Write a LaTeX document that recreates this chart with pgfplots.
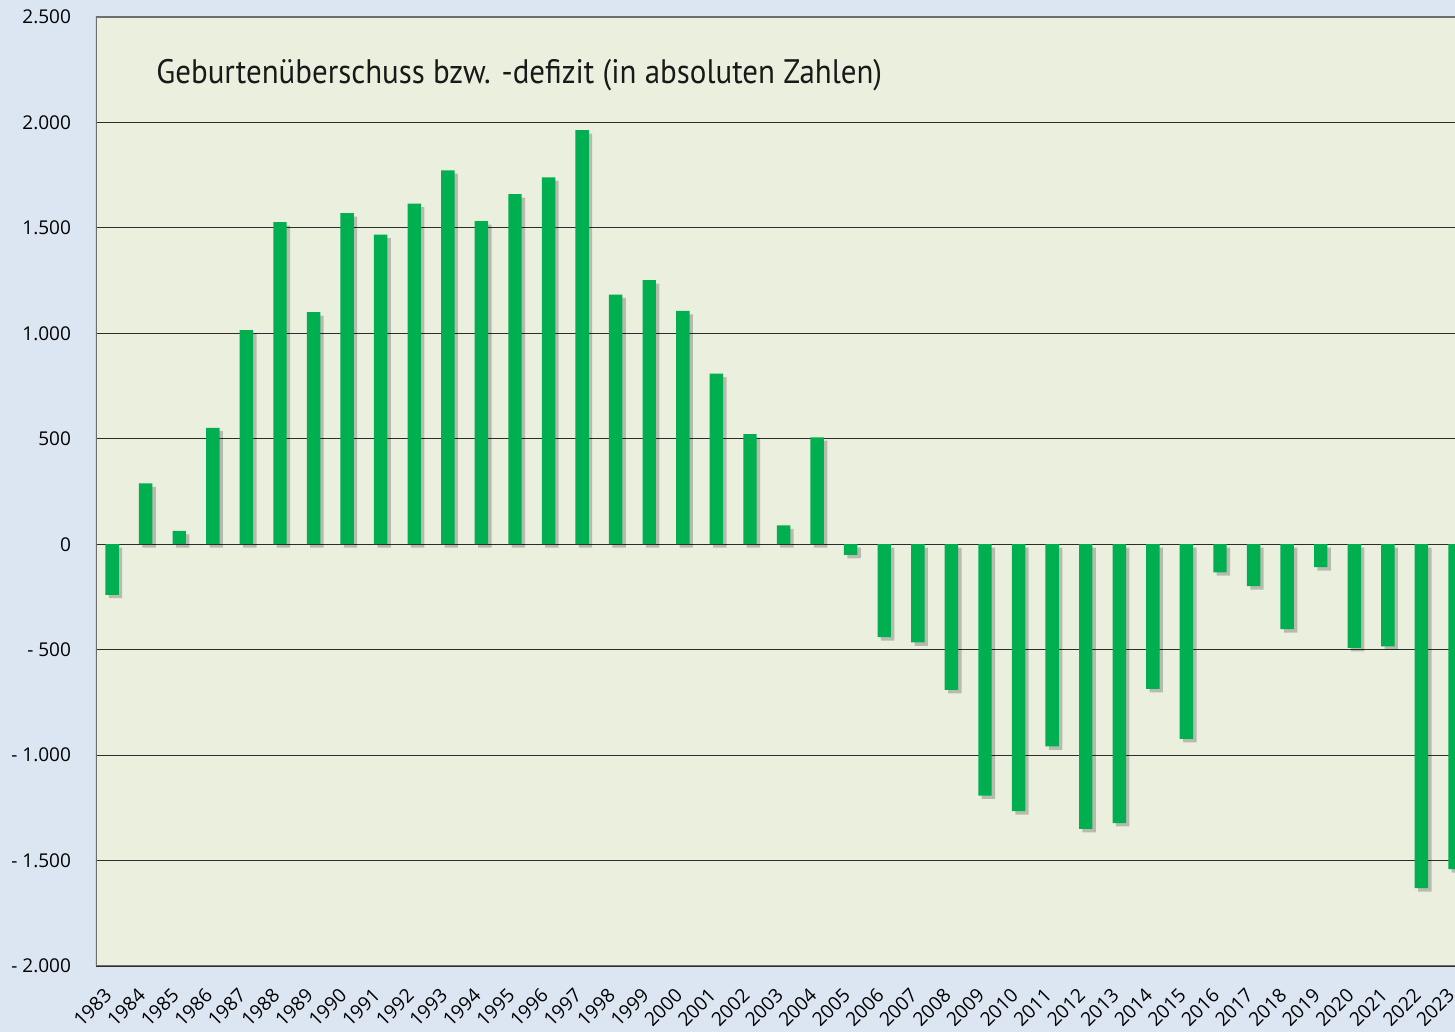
\documentclass[border=0pt]{standalone}
\usepackage{fontspec}
\setmainfont{Open Sans}
\newfontfamily\titlefont[FakeStretch=0.91]{PT Sans}
\usepackage{pgfplots}
\usepackage{pgfplotstable}
\pgfplotsset{compat=1.18}
\usetikzlibrary{backgrounds,shadows}
\definecolor{outerbg}{RGB}{220,230,242}
\definecolor{plotbg}{RGB}{235,240,222}
\definecolor{barg}{RGB}{0,176,80}
\definecolor{gridc}{RGB}{45,45,45}
\definecolor{axc}{RGB}{110,110,110}
\pgfplotstableread{
year val
1983 -240
1984 288
1985 63
1986 552
1987 1015
1988 1527
1989 1100
1990 1570
1991 1468
1992 1615
1993 1773
1994 1532
1995 1660
1996 1739
1997 1963
1998 1184
1999 1252
2000 1106
2001 809
2002 522
2003 89
2004 507
2005 -51
2006 -441
2007 -466
2008 -691
2009 -1192
2010 -1266
2011 -959
2012 -1350
2013 -1322
2014 -686
2015 -923
2016 -133
2017 -199
2018 -403
2019 -109
2020 -492
2021 -484
2022 -1631
2023 -1541
}\data
\begin{document}
\begin{tikzpicture}
\begin{axis}[
  scale only axis,
  width=679.5pt, height=474.5pt,
  xmin=1982.52, xmax=2023.0,
  ymin=-2000, ymax=2500,
  axis background/.style={fill=plotbg},
  axis line style={draw=none},
  ytick={-2000,-1500,...,2500},
  yticklabels={\mbox{- 2.000},\mbox{- 1.500},\mbox{- 1.000},\mbox{- 500},0,500,1.000,1.500,2.000,2.500},
  xtick={1983,...,2023},
  /pgf/number format/assume math mode=true,
  /pgf/number format/1000 sep={},
  major tick length=0pt,
  ymajorgrids,
  grid style={draw=gridc, line width=0.6pt},
  yticklabel style={font=\fontsize{9.5}{11}\selectfont, anchor=east, xshift=-9pt, text=black},
  xticklabel style={font=\fontsize{9.6}{11}\selectfont, xshift=-4.5pt, yshift=-10.2pt, rotate=45, anchor=north east, inner sep=0pt, text=black},
  clip=true,
]
\addplot[ybar, bar width=0.4, fill=barg, draw=none,
  drop shadow={shadow xshift=1.7pt, shadow yshift=-1.7pt, fill=black, opacity=0.22}]
  table[x=year, y=val]{\data};
\draw[axc, line width=1pt] (rel axis cs:0,1) -- (rel axis cs:1,1);
\draw[axc, line width=1pt] (rel axis cs:0,0) -- (rel axis cs:1,0);
\draw[axc, line width=1pt] (rel axis cs:0,0) -- (rel axis cs:0,1);
\node[anchor=west, font=\titlefont\fontsize{17}{20}\selectfont, text=black!90, inner sep=0pt]
  at (rel axis cs:0,1) [xshift=30pt, yshift=-29pt] {Geburtenüberschuss bzw. -defizit (in absoluten Zahlen)};
\coordinate (ll) at (rel axis cs:0,0);
\coordinate (ur) at (rel axis cs:1,1);
\end{axis}
\pgfresetboundingbox
\path[use as bounding box] ([xshift=-48pt,yshift=-33pt]ll) rectangle ([yshift=8.5pt]ur);
\begin{scope}[on background layer]
\fill[outerbg] ([xshift=-48pt,yshift=-33pt]ll) rectangle ([yshift=8.5pt]ur);
\end{scope}
\end{tikzpicture}
\end{document}
